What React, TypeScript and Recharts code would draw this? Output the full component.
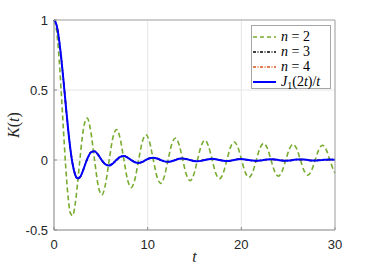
import React from 'react';
import {
  LineChart,
  Line,
  XAxis,
  YAxis,
  CartesianGrid,
} from 'recharts';

// sample times t (fine steps near the origin, then ~pi/8 steps)
const tValues = [
  0, 0.25, 0.5, 0.75, 1, 1.25, 1.5, 1.75, 2, 2.25, 2.5, 2.75, 3,
  3.142, 3.534, 3.927, 4.32, 4.712, 5.105, 5.498, 5.89,
  6.283, 6.676, 7.069, 7.461, 7.854, 8.247, 8.639, 9.032,
  9.425, 9.817, 10.21, 10.603, 10.996, 11.388, 11.781, 12.174,
  12.566, 12.959, 13.352, 13.744, 14.137, 14.53, 14.923, 15.315,
  15.708, 16.101, 16.493, 16.886, 17.279, 17.671, 18.064, 18.457,
  18.85, 19.242, 19.635, 20.028, 20.42, 20.813, 21.206, 21.598,
  21.991, 22.384, 22.777, 23.169, 23.562, 23.955, 24.347, 24.74,
  25.133, 25.525, 25.918, 26.311, 26.704, 27.096, 27.489, 27.882,
  28.274, 28.667, 29.06, 29.452, 29.845, 30,
];

// n = 2 (green dashed)
const kN2 = [
  1, 0.9385, 0.7652, 0.5118, 0.2239, -0.0484, -0.2601, -0.3801, -0.3971, -0.3205, -0.1776, -0.0068, 0.1506,
  0.22, 0.3, 0.204, 0.004, -0.181, -0.25, -0.172, -0.003,
  0.158, 0.218, 0.151, 0.002, -0.141, -0.197, -0.137, -0.001,
  0.129, 0.18, 0.126, 0.001, -0.12, -0.167, -0.117, -0.001,
  0.112, 0.157, 0.11, 0.001, -0.106, -0.148, -0.104, -0.001,
  0.1, 0.141, 0.099, 0.001, -0.096, -0.134, -0.094, 0,
  0.092, 0.129, 0.09, 0, -0.088, -0.124, -0.087, 0,
  0.085, 0.119, 0.084, 0, -0.082, -0.115, -0.081, 0,
  0.079, 0.112, 0.079, 0, -0.077, -0.108, -0.076, 0,
  0.075, 0.105, 0.074, 0, -0.073, -0.092,
];

// J1(2t)/t (blue); n = 3 and n = 4 lie on top of it
const kBessel = [
  1, 0.9692, 0.8802, 0.7439, 0.5767, 0.3977, 0.2261, 0.0785, -0.033, -0.1027, -0.131, -0.1241, -0.0922,
  -0.0676, 0.0045, 0.0538, 0.063, 0.0375, -0.0018, -0.032, -0.0395,
  -0.0246, 0.0009, 0.0218, 0.0277, 0.0177, -0.0005, -0.016, -0.0208,
  -0.0135, 0.0004, 0.0125, 0.0163, 0.0108, -0.0002, -0.01, -0.0133,
  -0.0088, 0.0002, 0.0083, 0.0111, 0.0074, -0.0001, -0.007, -0.0094,
  -0.0063, 0.0001, 0.006, 0.0081, 0.0055, -0.0001, -0.0052, -0.0071,
  -0.0048, 0.0001, 0.0046, 0.0063, 0.0043, -0.0001, -0.0041, -0.0056,
  -0.0038, 0, 0.0037, 0.0051, 0.0035, 0, -0.0033, -0.0046,
  -0.0031, 0, 0.003, 0.0042, 0.0029, 0, -0.0028, -0.0038,
  -0.0026, 0, 0.0026, 0.0035, 0.0024, 0.0016,
];
const kN3 = kBessel;
const kN4 = kBessel;

const xTicks = [0, 10, 20, 30];
const yTicks = [-0.5, 0, 0.5, 1];

const data = tValues.map((t, i) => ({
  t,
  n2: kN2[i],
  n3: kN3[i],
  n4: kN4[i],
  bessel: kBessel[i],
}));

const tickFont = { fontSize: 13, fill: '#262626', fontFamily: '"Liberation Sans", Arial, sans-serif' };
const mathFont = '"Liberation Serif", "Times New Roman", serif';

const YLabel = ({ viewBox }: any) => {
  const x = viewBox.x + 13;
  const y = viewBox.y + viewBox.height / 2;
  return (
    <text
      x={x}
      y={y}
      transform={`rotate(-90 ${x} ${y})`}
      textAnchor="middle"
      dominantBaseline="central"
      fontFamily={mathFont}
      fontSize={16}
      fill="#262626"
    >
      <tspan fontStyle="italic">K</tspan>(<tspan fontStyle="italic">t</tspan>)
    </text>
  );
};

const XLabel = ({ viewBox }: any) => (
  <text
    x={viewBox.x + viewBox.width / 2}
    y={viewBox.y + 32}
    textAnchor="middle"
    fontFamily={mathFont}
    fontStyle="italic"
    fontSize={16}
    fill="#262626"
  >
    t
  </text>
);

const legendItems = [
  { key: 'n2', color: '#77AC30', dash: '4 3', label: <><i>n</i> = 2</> },
  { key: 'n3', color: '#000000', dash: '3 1.5 1 1.5', label: <><i>n</i> = 3</> },
  { key: 'n4', color: '#D95319', dash: '3 1.5 1 1.5', label: <><i>n</i> = 4</> },
  {
    key: 'bessel',
    color: '#0000FF',
    dash: undefined,
    label: <><i>J</i><span style={{ fontSize: 10, position: 'relative', top: 3 }}>1</span>(2<i>t</i>)/<i>t</i></>,
  },
];

const LegendBox = () => (
  <div
    style={{
      position: 'absolute',
      left: 251,
      top: 25,
      border: '1px solid #a6a6a6',
      background: 'white',
      width: 80,
      height: 64,
      boxSizing: 'border-box',
      padding: '3px 0 0 0',
      fontFamily: mathFont,
      fontSize: 14,
      color: '#000',
    }}
  >
    {legendItems.map((it) => (
      <div key={it.key} style={{ display: 'flex', alignItems: 'center', height: 15 }}>
        <svg width={29} height={10} style={{ flex: 'none' }}>
          <line x1={1} x2={24} y1={5} y2={5} stroke={it.color} strokeWidth={it.key === 'bessel' ? 2 : 1.5} strokeDasharray={it.dash} />
        </svg>
        <span style={{ whiteSpace: 'nowrap', lineHeight: '15px' }}>{it.label}</span>
      </div>
    ))}
  </div>
);

export default function App() {
  return (
    <div style={{ width: 370, height: 273, background: 'white', position: 'relative' }}>
      <style>{'body{margin:0}'}</style>
      <LineChart width={370} height={273} data={data} margin={{ top: 19, right: 34, left: 0, bottom: 0 }}>
        <CartesianGrid stroke="#e6e6e6" vertical horizontal />
        <XAxis
          dataKey="t"
          type="number"
          domain={[0, 30]}
          ticks={xTicks}
          height={43}
          tick={tickFont}
          tickSize={-3}
          tickMargin={13}
          stroke="#8c8c8c"
          label={<XLabel />}
        />
        <XAxis
          xAxisId="top"
          orientation="top"
          type="number"
          domain={[0, 30]}
          ticks={xTicks}
          height={1}
          tick={false}
          tickSize={-3}
          stroke="#a6a6a6"
        />
        <YAxis
          type="number"
          domain={[-0.5, 1]}
          ticks={yTicks}
          width={54}
          tick={tickFont}
          tickSize={-3}
          tickMargin={9}
          stroke="#8c8c8c"
          label={<YLabel />}
        />
        <YAxis
          yAxisId="right"
          orientation="right"
          type="number"
          domain={[-0.5, 1]}
          ticks={yTicks}
          width={1}
          tick={false}
          tickSize={-3}
          stroke="#a6a6a6"
        />
        <Line dataKey="n2" type="monotone" stroke="#77AC30" strokeWidth={1.6} strokeDasharray="5 3" dot={false} isAnimationActive={false} />
        <Line dataKey="n3" type="monotone" stroke="#000000" strokeWidth={1.5} strokeDasharray="4 2 1 2" dot={false} isAnimationActive={false} />
        <Line dataKey="n4" type="monotone" stroke="#D95319" strokeWidth={1.5} strokeDasharray="4 2 1 2" dot={false} isAnimationActive={false} />
        <Line dataKey="bessel" type="monotone" stroke="#0000FF" strokeWidth={2} dot={false} isAnimationActive={false} />
      </LineChart>
      <LegendBox />
    </div>
  );
}
